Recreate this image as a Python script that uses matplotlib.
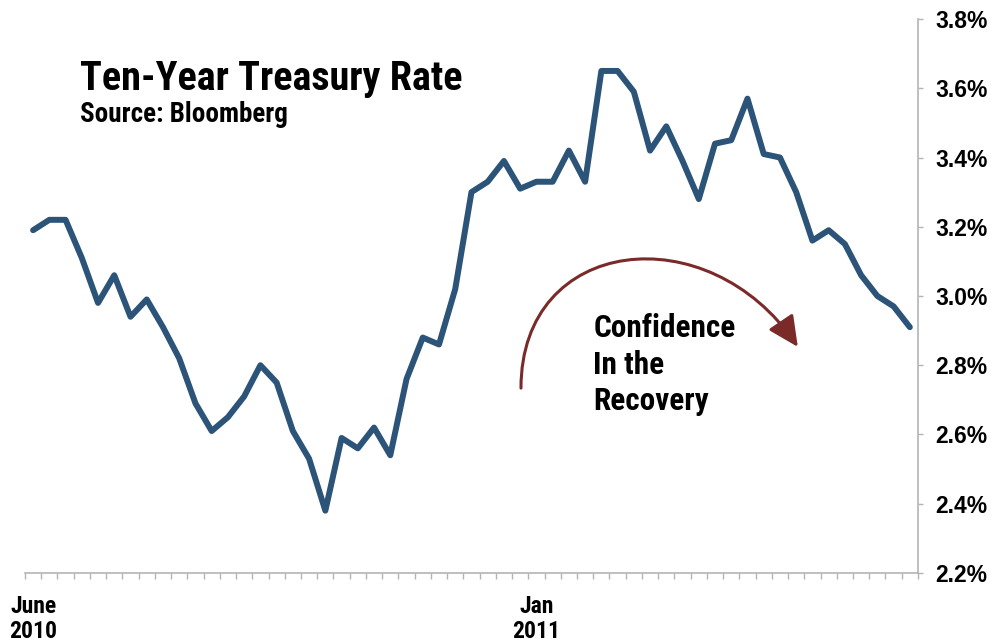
import matplotlib
matplotlib.use("Agg")
import matplotlib.pyplot as plt
from matplotlib.path import Path
from matplotlib.patches import FancyArrowPatch
import numpy as np

# weekly 10-year treasury yield, June 2010 - June 2011 (percent)
rates = [3.19, 3.22, 3.22, 3.11, 2.98, 3.06, 2.94, 2.99, 2.91, 2.82,
         2.69, 2.61, 2.65, 2.71, 2.80, 2.75, 2.61, 2.53, 2.38, 2.59,
         2.56, 2.62, 2.54, 2.76, 2.88, 2.86, 3.02, 3.30, 3.33, 3.39,
         3.31, 3.33, 3.33, 3.42, 3.33, 3.65, 3.65, 3.59, 3.42, 3.49,
         3.39, 3.28, 3.44, 3.45, 3.57, 3.41, 3.40, 3.30, 3.16, 3.19,
         3.15, 3.06, 3.00, 2.97, 2.91]
month_pos = [0, 31]
month_labels = ["June\n2010", "Jan\n2011"]
y_ticks = [2.2, 2.4, 2.6, 2.8, 3.0, 3.2, 3.4, 3.6, 3.8]

narrow = ["Roboto Condensed", "PT Sans Narrow", "DejaVu Sans"]
wide = ["Liberation Sans", "DejaVu Sans"]
line_col = "#2c5478"
arrow_col = "#7a2a28"
axis_col = "#b4b4b4"

fig = plt.figure(figsize=(9.91, 6.4), dpi=100)
ax = fig.add_axes([0.0252, 0.1047, 0.9011, 0.8656])

x = np.arange(len(rates))
ax.plot(x, rates, color=line_col, lw=4.3, solid_joinstyle="round", solid_capstyle="round")

ax.set_xlim(-0.5, len(rates) - 0.5)
ax.set_ylim(2.2, 3.8)

for side in ["left", "top"]:
    ax.spines[side].set_visible(False)
for side in ["bottom", "right"]:
    ax.spines[side].set_color(axis_col)
    ax.spines[side].set_linewidth(1.2)

# x axis: a small tick between every week, labels only at the months
ax.set_xticks(month_pos)
ax.set_xticklabels(month_labels, fontfamily=narrow, fontweight="bold", fontsize=17,
                   linespacing=1.12)
ax.tick_params(axis="x", which="major", length=0, pad=16)
ax.set_xticks(np.arange(-0.5, len(rates), 1.0), minor=True)
ax.tick_params(axis="x", which="minor", length=4.5, width=1.0, color=axis_col, direction="out")

ax.yaxis.tick_right()
ax.set_yticks(y_ticks)
ax.set_yticklabels([f"{v:.1f}%" for v in y_ticks], fontfamily=wide, fontweight="bold", fontsize=16.5)
ax.tick_params(axis="y", length=3.5, width=1.0, color=axis_col, pad=9)

fig.text(0.0807, 0.859, "Ten-Year Treasury Rate", fontfamily=narrow, fontweight="bold",
         fontsize=29, va="baseline")
fig.text(0.0807, 0.809, "Source: Bloomberg", fontfamily=narrow, fontweight="bold",
         fontsize=19.5, va="baseline")

# curved arrow over the 2011 run-up
verts = [(30.05, 2.734), (30.05, 3.175), (41.6, 3.235), (47.1, 2.853)]
codes = [Path.MOVETO, Path.CURVE4, Path.CURVE4, Path.CURVE4]
arc = FancyArrowPatch(path=Path(verts, codes), arrowstyle="-|>,head_length=0.62,head_width=0.3",
                      mutation_scale=30, color=arrow_col, lw=2.2, transform=ax.transData)
ax.add_patch(arc)

ax.text(34.5, 2.95, "Confidence\nIn the\nRecovery", fontfamily=narrow, fontweight="bold",
        fontsize=22.5, va="top", ha="left", linespacing=1.27)

fig.savefig("out.png", dpi=100)
